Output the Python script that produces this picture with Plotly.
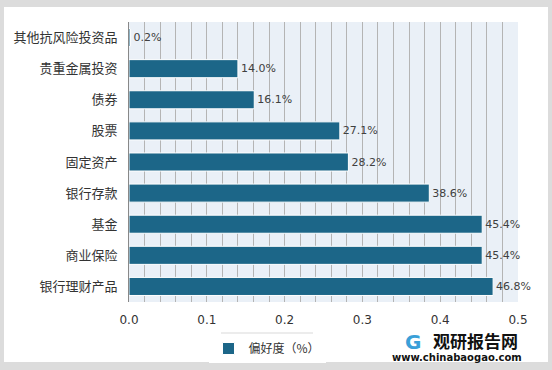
import plotly.graph_objects as go

categories = ["其他抗风险投资品", "贵重金属投资", "债券", "股票", "固定资产",
              "银行存款", "基金", "商业保险", "银行理财产品"]
values = [0.002, 0.140, 0.161, 0.271, 0.282, 0.386, 0.454, 0.454, 0.468]
labels = ["0.2%", "14.0%", "16.1%", "27.1%", "28.2%", "38.6%", "45.4%", "45.4%", "46.8%"]
series_name = "偏好度（%）"

W, H = 552, 370
L, R, T, B = 129, 518, 22, 302

fig = go.Figure()
fig.add_trace(go.Bar(
    y=categories, x=values, orientation="h", name=series_name,
    marker=dict(color="#1C6688", line=dict(color="white", width=1)),
    width=0.58,
    text=labels, textposition="outside", cliponaxis=False,
    textfont=dict(family="DejaVu Sans", size=11, color="#404040"),
    showlegend=True,
))

def px(x):
    return (x - L) / (R - L)

def py(y):
    return (B - y) / (B - T)

shapes = []
# outer grey frame
for (x0, y0, x1, y1) in [(0, 0, 4, H), (548, 0, W, H), (0, 0, W, 7), (0, 362, W, H)]:
    shapes.append(dict(type="rect", xref="paper", yref="paper",
                       x0=px(x0), x1=px(x1), y0=py(y1), y1=py(y0),
                       fillcolor="#dcdcdc", line=dict(width=0), layer="below"))
# legend box shadow
shapes.append(dict(type="rect", xref="paper", yref="paper",
                   x0=px(221), x1=px(313), y0=py(359), y1=py(332),
                   fillcolor="#ececec", line=dict(width=0), layer="below"))

fig.update_layout(
    width=W, height=H,
    margin=dict(l=L, r=W - R, t=T, b=H - B, autoexpand=False),
    paper_bgcolor="white", plot_bgcolor="#EAF0F7",
    font=dict(family="Noto Sans CJK SC", color="#333333", size=12),
    xaxis=dict(range=[0, 0.5], dtick=0.1, tickformat=".1f", automargin=False,
               showgrid=True, gridcolor="#b4b4b4", gridwidth=1,
               minor=dict(dtick=0.02, showgrid=True, gridcolor="#b4b4b4", gridwidth=1),
               zeroline=False, showline=False, ticks="", ticklabelstandoff=9,
               tickfont=dict(family="DejaVu Sans", size=12, color="#333333")),
    yaxis=dict(autorange="reversed", showgrid=False, showline=True, automargin=False,
               linecolor="#888888", linewidth=1, ticks="", ticklen=0,
               ticklabelstandoff=8,
               tickfont=dict(family="Noto Sans CJK SC", size=13, color="#333333")),
    legend=dict(orientation="h", x=px(267), xanchor="center", y=py(334), yanchor="top",
                bgcolor="white", borderwidth=0, itemwidth=30,
                font=dict(family="Noto Sans CJK SC", size=12, color="#333333")),
    shapes=shapes,
    annotations=[
        dict(text="<b>观研报告网</b>", xref="paper", yref="paper", x=px(475), y=py(340),
             xanchor="center", yanchor="middle", showarrow=False,
             font=dict(family="Noto Sans CJK SC", size=17, color="#111111")),
        dict(text="<b>www.chinabaogao.com</b>", xref="paper", yref="paper", x=px(457), y=py(357),
             xanchor="center", yanchor="middle", showarrow=False,
             font=dict(family="DejaVu Sans", size=10, color="#111111")),
        dict(text="<b>G</b>", xref="paper", yref="paper", x=px(413), y=py(342),
             xanchor="center", yanchor="middle", showarrow=False,
             font=dict(family="DejaVu Sans", size=20, color="#3aa0d8")),
    ],
)

fig.write_html("out.html", config={"displayModeBar": False},
               post_script="document.body.style.margin='0';document.body.style.overflow='hidden';")
